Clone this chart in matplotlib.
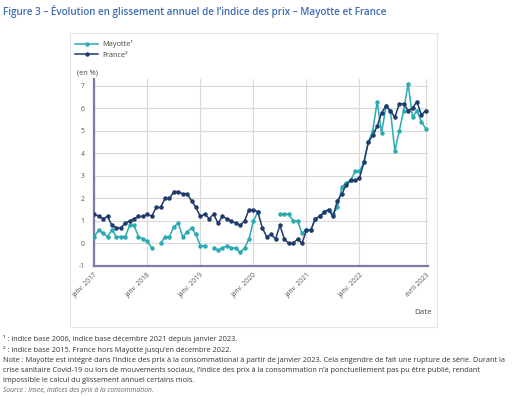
import numpy as np
import matplotlib
matplotlib.use("Agg")
import matplotlib.pyplot as plt
from matplotlib.patches import Rectangle
from matplotlib.lines import Line2D

nan = np.nan
# Monthly values, Jan 2017 .. Apr 2023
france = [
    1.3, 1.2, 1.1, 1.2, 0.8, 0.7, 0.7, 0.9, 1.0, 1.1, 1.2, 1.2,
    1.3, 1.2, 1.6, 1.6, 2.0, 2.0, 2.3, 2.3, 2.2, 2.2, 1.9, 1.6,
    1.2, 1.3, 1.1, 1.3, 0.9, 1.2, 1.1, 1.0, 0.9, 0.8, 1.0, 1.5,
    1.5, 1.4, 0.7, 0.3, 0.4, 0.2, 0.8, 0.2, 0.0, 0.0, 0.2, 0.0,
    0.6, 0.6, 1.1, 1.2, 1.4, 1.5, 1.2, 1.9, 2.2, 2.6, 2.8, 2.8,
    2.9, 3.6, 4.5, 4.8, 5.2, 5.8, 6.1, 5.9, 5.6, 6.2, 6.2, 5.9,
    6.0, 6.3, 5.7, 5.9]
mayotte = [
    0.3, 0.6, 0.45, 0.3, 0.6, 0.3, 0.3, 0.3, 0.8, 0.8, 0.3, 0.2,
    0.1, -0.2, nan, 0.0, 0.3, 0.3, 0.75, 0.9, 0.3, 0.5, 0.7, 0.4,
    -0.1, -0.1, nan, -0.2, -0.3, -0.2, -0.1, -0.2, -0.2, -0.4, -0.2, 0.2,
    1.0, 1.4, nan, nan, nan, nan, 1.3, 1.3, 1.3, 1.0, 1.0, 0.45,
    0.6, 0.6, 1.1, 1.2, 1.4, 1.5, 1.3, 1.6, 2.5, 2.7, 2.8, 3.2,
    3.2, 3.6, 4.5, 5.0, 6.3, 4.9, 6.1, 5.9, 4.1, 5.0, 5.9, 7.1,
    5.6, 5.9, 5.4, 5.1]
xtick_pos = [0, 12, 24, 36, 48, 60, 75]
xtick_labels = ["janv. 2017", "janv. 2018", "janv. 2019", "janv. 2020",
                "janv. 2021", "janv. 2022", "avril 2023"]
yticks = [-1, 0, 1, 2, 3, 4, 5, 6, 7]

months = np.arange(len(france))

plt.rcParams['font.family'] = ['Open Sans', 'DejaVu Sans']
W, H = 530, 396
fig = plt.figure(figsize=(W / 100, H / 100), dpi=100)
fig.patch.set_facecolor('white')

def fx(px):
    return px / W

def fy(py):
    return 1 - py / H

# panel border
fig.patches.append(Rectangle((fx(70), fy(327)), fx(437) - fx(70), fy(33) - fy(327),
                             transform=fig.transFigure, fill=False,
                             edgecolor='#e3e3e3', linewidth=0.8))

ax = fig.add_axes([fx(94.3), fy(266), fx(428) - fx(94.3), fy(79) - fy(266)])
teal = '#2aaab2'
navy = '#1f3a6b'
ax.plot(months, mayotte, color=teal, lw=1.1, marker='o', ms=2.2, zorder=3,
        label='Mayotte¹')
ax.plot(months, france, color=navy, lw=1.1, marker='o', ms=2.2, zorder=4,
        label='France²')

ax.set_xlim(0, 75.5)
ax.set_ylim(-1, 7.3)
ax.set_yticks(yticks)
ax.set_yticklabels([str(v) for v in yticks])
ax.set_xticks(xtick_pos)
ax.set_xticklabels(xtick_labels, rotation=45, ha='right', rotation_mode='anchor')
ax.tick_params(axis='both', length=0, labelsize=4.9, labelcolor='#555555')
ax.tick_params(axis='y', pad=7)
ax.tick_params(axis='x', pad=4)
ax.grid(True, color='#d9d9d9', lw=0.8)
ax.set_axisbelow(True)
for s in ['top', 'right']:
    ax.spines[s].set_visible(False)
for s in ['left', 'bottom']:
    ax.spines[s].set_color('#7d7aa8')
    ax.spines[s].set_linewidth(1.6)

# legend
handles = [Line2D([], [], color=teal, lw=1.1, marker='o', ms=2.2),
           Line2D([], [], color=navy, lw=1.1, marker='o', ms=2.2)]
fig.legend(handles, ['Mayotte¹', 'France²'], loc='upper left',
           bbox_to_anchor=(fx(74), fy(39)), frameon=False, fontsize=5.3,
           handlelength=3.0, handletextpad=0.6, labelspacing=0.45,
           labelcolor='#444444', borderaxespad=0, borderpad=0.2)

fig.text(fx(77), fy(73), '(en %)', fontsize=5.3, color='#444444', va='center')
fig.text(fx(432), fy(312), 'Date', fontsize=5.8, color='#444444', va='center', ha='right')

fig.text(fx(3), fy(12), "Figure 3 – Évolution en glissement annuel de l’indice des prix – Mayotte et France",
         fontsize=7.1, color='#3f6db3', fontweight='semibold', va='center')

notes = [
    "¹ : indice base 2006, indice base décembre 2021 depuis janvier 2023.",
    "² : indice base 2015. France hors Mayotte jusqu’en décembre 2022.",
    "Note : Mayotte est intégré dans l’indice des prix à la consommational à partir de janvier 2023. Cela engendre de fait une rupture de série. Durant la",
    "crise sanitaire Covid-19 ou lors de mouvements sociaux, l’indice des prix à la consommation n’a ponctuellement pas pu être publié, rendant",
    "impossible le calcul du glissement annuel certains mois.",
]
ys = [339, 350, 361, 371, 381]
for t, y in zip(notes, ys):
    fig.text(fx(3), fy(y), t, fontsize=5.35, color='#333333', va='center')
fig.text(fx(3), fy(391), "Source : Insee, indices des prix à la consommation.",
         fontsize=4.9, color='#666666', va='center', style='italic')

fig.savefig('out.png', dpi=100)
